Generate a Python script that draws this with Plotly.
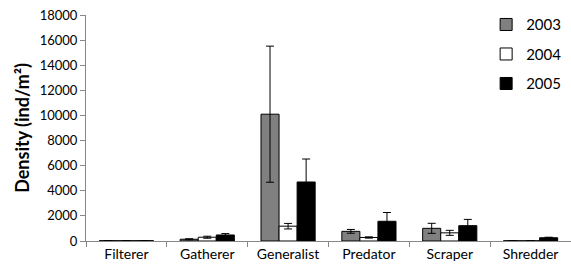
import plotly.graph_objects as go

categories = ["Filterer", "Gatherer", "Generalist", "Predator", "Scraper", "Shredder"]
years = ["2003", "2004", "2005"]
vals_2003 = [25, 140, 10100, 770, 1010, 20]
vals_2004 = [25, 300, 1180, 280, 650, 20]
vals_2005 = [25, 480, 4700, 1570, 1220, 260]
err_2003 = [5, 40, 5420, 150, 400, 5]
err_2004 = [5, 80, 220, 50, 200, 5]
err_2005 = [5, 110, 1830, 700, 500, 40]

series = [
    ("2003", vals_2003, err_2003, "#808080"),
    ("2004", vals_2004, err_2004, "#ffffff"),
    ("2005", vals_2005, err_2005, "#000000"),
]

font_family = "Lato, 'Open Sans', sans-serif"
fig = go.Figure()
for name, v, e, col in series:
    fig.add_trace(go.Bar(
        x=categories, y=v, name=name, legendgroup=name,
        marker=dict(color=col, line=dict(color="#000000", width=1)),
        error_y=dict(type="data", array=e, visible=True, color="#000000", thickness=1, width=4),
    ))

fig.update_layout(
    width=571, height=275,
    margin=dict(l=86, r=0, t=15, b=34, autoexpand=False),
    paper_bgcolor="white", plot_bgcolor="white",
    barmode="group", bargap=0.33, bargroupgap=0,
    font=dict(family=font_family, size=13, color="#000000"),
    legend=dict(x=0.825, y=1.03, xanchor="left", yanchor="top",
                font=dict(size=15), traceorder="grouped", tracegroupgap=7,
                itemwidth=30, bgcolor="rgba(0,0,0,0)"),
    showlegend=True,
)
fig.update_xaxes(showline=True, linecolor="#888888", linewidth=1, ticks="outside",
                 tickson="boundaries", ticklen=5, tickcolor="#888888",
                 tickfont=dict(size=14), showgrid=False)
fig.update_yaxes(range=[0, 18000], dtick=2000, tickformat="d", showline=True, linecolor="#888888",
                 linewidth=1, ticks="outside", ticklen=5, tickcolor="#888888",
                 showgrid=False, zeroline=False, tickfont=dict(size=13),
                 title=dict(text="<b>Density (ind/m²)</b>", font=dict(size=18), standoff=5))

fig.write_html("out.html", config={"displayModeBar": False},
               post_script="document.body.style.margin='0';document.body.style.overflow='hidden';")
